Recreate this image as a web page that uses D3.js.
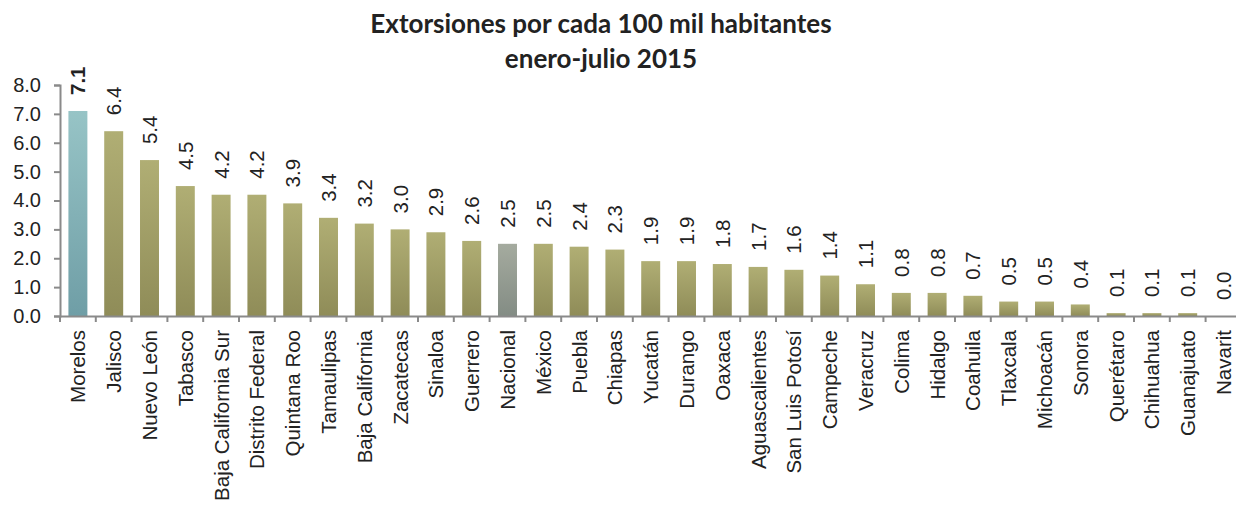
<!DOCTYPE html>
<html><head><meta charset="utf-8">
<script src="https://cdn.jsdelivr.net/npm/d3@7/dist/d3.min.js"></script>
<style>body{margin:0;background:#fff}svg{display:block}</style>
</head><body>
<script>
const categories = ["Morelos","Jalisco","Nuevo León","Tabasco","Baja California Sur","Distrito Federal","Quintana Roo","Tamaulipas","Baja California","Zacatecas","Sinaloa","Guerrero","Nacional","México","Puebla","Chiapas","Yucatán","Durango","Oaxaca","Aguascalientes","San Luis Potosí","Campeche","Veracruz","Colima","Hidalgo","Coahuila","Tlaxcala","Michoacán","Sonora","Querétaro","Chihuahua","Guanajuato","Navarit"];
const values = [7.1,6.4,5.4,4.5,4.2,4.2,3.9,3.4,3.2,3.0,2.9,2.6,2.5,2.5,2.4,2.3,1.9,1.9,1.8,1.7,1.6,1.4,1.1,0.8,0.8,0.7,0.5,0.5,0.4,0.1,0.1,0.1,0.0];
const yTicks = [0,1,2,3,4,5,6,7,8];
const titleLines = ["Extorsiones por cada 100 mil habitantes","enero-julio 2015"];

const W = 1236, H = 505;
const svg = d3.select("body").append("svg").attr("width", W).attr("height", H);
const defs = svg.append("defs");
function grad(id, c1, c2) {
  const g = defs.append("linearGradient").attr("id", id).attr("x1",0).attr("y1",0).attr("x2",0).attr("y2",1);
  g.append("stop").attr("offset","0%").attr("stop-color", c1);
  g.append("stop").attr("offset","100%").attr("stop-color", c2);
}
grad("gOlive", "#b0ae74", "#8f8c58");
grad("gTeal", "#97c4c6", "#6f9ea6");
grad("gGray", "#a5ab9f", "#838c84");

const x = d3.scaleBand().domain(categories).range([60, 60 + 33 * 35.8]).paddingInner(0.47).paddingOuter(0.235);
const y = d3.scaleLinear().domain([0, 8]).range([316, 85]);

const axisColor = "#8a8a8a";
const font = "'Liberation Sans', Arial, sans-serif";

// bars
svg.append("g").selectAll("rect").data(categories).join("rect")
  .attr("x", d => x(d))
  .attr("width", x.bandwidth())
  .attr("y", (d,i) => y(values[i]))
  .attr("height", (d,i) => y(0) - y(values[i]))
  .attr("fill", d => d === "Morelos" ? "url(#gTeal)" : d === "Nacional" ? "url(#gGray)" : "url(#gOlive)");

// y axis
const ya = svg.append("g").attr("transform", "translate(60,0)")
  .call(d3.axisLeft(y).tickValues(yTicks).tickFormat(d3.format(".1f")).tickSize(6).tickPadding(13));
ya.select(".domain").attr("stroke", axisColor).attr("stroke-width", 2);
ya.selectAll(".tick line").attr("stroke", axisColor).attr("stroke-width", 2);
ya.selectAll(".tick text").attr("font-family", font).attr("font-size", 20).attr("fill", "#222");

// x axis
const xa = svg.append("g").attr("transform", "translate(0,316)")
  .call(d3.axisBottom(x).tickSize(0).tickFormat(""));
xa.select(".domain").attr("stroke", axisColor).attr("stroke-width", 2);
const step = x.step();
svg.append("g").selectAll("line").data(d3.range(categories.length + 1)).join("line")
  .attr("x1", i => 60 + i * step).attr("x2", i => 60 + i * step)
  .attr("y1", 316).attr("y2", 322)
  .attr("stroke", axisColor).attr("stroke-width", 2);

// category labels
svg.append("g").selectAll("text").data(categories).join("text")
  .attr("transform", d => `translate(${x(d) + x.bandwidth()/2 + 7.5},330) rotate(-90)`)
  .attr("text-anchor", "end")
  .attr("font-family", font).attr("font-size", 20.5).attr("fill", "#222")
  .text(d => d);

// value labels
svg.append("g").selectAll("text").data(categories).join("text")
  .attr("transform", (d,i) => `translate(${x(d) + x.bandwidth()/2 + 7.5},${y(values[i]) - 16}) rotate(-90)`)
  .attr("text-anchor", "start")
  .attr("font-family", font).attr("font-size", 20.5).attr("fill", "#222")
  .attr("font-weight", d => d === "Morelos" ? "bold" : "normal")
  .text((d,i) => d3.format(".1f")(values[i]));

// title
svg.append("g").selectAll("text").data(titleLines).join("text")
  .attr("x", 601).attr("y", (d,i) => 33 + i * 35)
  .attr("text-anchor", "middle")
  .attr("font-family", "Lato, 'Open Sans', sans-serif").attr("font-weight", "bold")
  .attr("font-size", 26).attr("fill", "#222")
  .text(d => d);
</script>
</body></html>
